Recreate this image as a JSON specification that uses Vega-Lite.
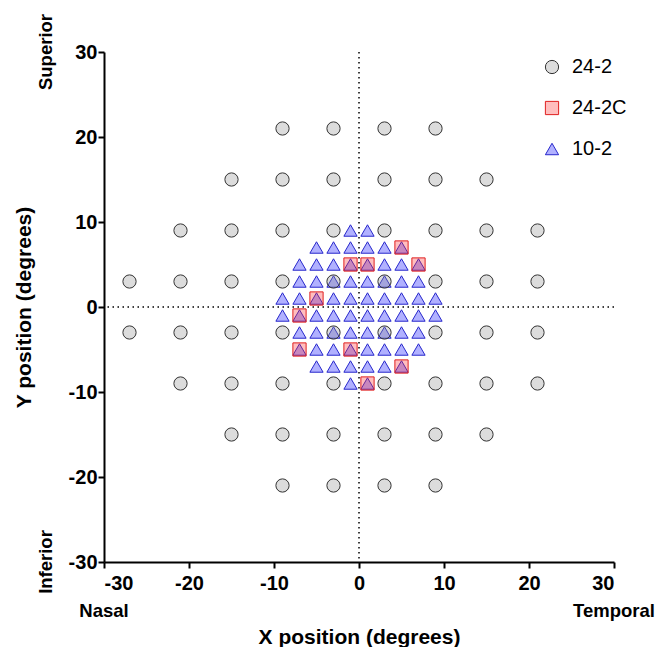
{
  "$schema": "https://vega.github.io/schema/vega-lite/v6.json",
  "width": 510,
  "height": 510,
  "autosize": {"type": "none"},
  "padding": {"left": 104, "top": 52, "right": 54, "bottom": 85},
  "background": "white",
  "config": {
    "view": {"stroke": null},
    "font": "Liberation Sans",
    "axis": {
      "grid": false,
      "domainColor": "black",
      "domainWidth": 2,
      "tickColor": "black",
      "tickWidth": 2,
      "tickSize": 6,
      "labelFont": "Liberation Sans",
      "labelFontWeight": "bold",
      "labelFontSize": 20,
      "labelColor": "black",
      "labelExpr": "toString(datum.value)",
      "titleFont": "Liberation Sans",
      "titleFontWeight": "bold",
      "titleFontSize": 21,
      "titleColor": "black"
    }
  },
  "datasets": {
    "pts": [
      {"x": -1, "y": 9, "test": "10-2"}, {"x": 1, "y": 9, "test": "10-2"},
      {"x": -5, "y": 7, "test": "10-2"}, {"x": -3, "y": 7, "test": "10-2"}, {"x": -1, "y": 7, "test": "10-2"}, {"x": 1, "y": 7, "test": "10-2"}, {"x": 3, "y": 7, "test": "10-2"}, {"x": 5, "y": 7, "test": "10-2"},
      {"x": -7, "y": 5, "test": "10-2"}, {"x": -5, "y": 5, "test": "10-2"}, {"x": -3, "y": 5, "test": "10-2"}, {"x": -1, "y": 5, "test": "10-2"}, {"x": 1, "y": 5, "test": "10-2"}, {"x": 3, "y": 5, "test": "10-2"}, {"x": 5, "y": 5, "test": "10-2"}, {"x": 7, "y": 5, "test": "10-2"},
      {"x": -7, "y": 3, "test": "10-2"}, {"x": -5, "y": 3, "test": "10-2"}, {"x": -3, "y": 3, "test": "10-2"}, {"x": -1, "y": 3, "test": "10-2"}, {"x": 1, "y": 3, "test": "10-2"}, {"x": 3, "y": 3, "test": "10-2"}, {"x": 5, "y": 3, "test": "10-2"}, {"x": 7, "y": 3, "test": "10-2"},
      {"x": -9, "y": 1, "test": "10-2"}, {"x": -7, "y": 1, "test": "10-2"}, {"x": -5, "y": 1, "test": "10-2"}, {"x": -3, "y": 1, "test": "10-2"}, {"x": -1, "y": 1, "test": "10-2"}, {"x": 1, "y": 1, "test": "10-2"}, {"x": 3, "y": 1, "test": "10-2"}, {"x": 5, "y": 1, "test": "10-2"}, {"x": 7, "y": 1, "test": "10-2"}, {"x": 9, "y": 1, "test": "10-2"},
      {"x": -9, "y": -1, "test": "10-2"}, {"x": -7, "y": -1, "test": "10-2"}, {"x": -5, "y": -1, "test": "10-2"}, {"x": -3, "y": -1, "test": "10-2"}, {"x": -1, "y": -1, "test": "10-2"}, {"x": 1, "y": -1, "test": "10-2"}, {"x": 3, "y": -1, "test": "10-2"}, {"x": 5, "y": -1, "test": "10-2"}, {"x": 7, "y": -1, "test": "10-2"}, {"x": 9, "y": -1, "test": "10-2"},
      {"x": -7, "y": -3, "test": "10-2"}, {"x": -5, "y": -3, "test": "10-2"}, {"x": -3, "y": -3, "test": "10-2"}, {"x": -1, "y": -3, "test": "10-2"}, {"x": 1, "y": -3, "test": "10-2"}, {"x": 3, "y": -3, "test": "10-2"}, {"x": 5, "y": -3, "test": "10-2"}, {"x": 7, "y": -3, "test": "10-2"},
      {"x": -7, "y": -5, "test": "10-2"}, {"x": -5, "y": -5, "test": "10-2"}, {"x": -3, "y": -5, "test": "10-2"}, {"x": -1, "y": -5, "test": "10-2"}, {"x": 1, "y": -5, "test": "10-2"}, {"x": 3, "y": -5, "test": "10-2"}, {"x": 5, "y": -5, "test": "10-2"}, {"x": 7, "y": -5, "test": "10-2"},
      {"x": -5, "y": -7, "test": "10-2"}, {"x": -3, "y": -7, "test": "10-2"}, {"x": -1, "y": -7, "test": "10-2"}, {"x": 1, "y": -7, "test": "10-2"}, {"x": 3, "y": -7, "test": "10-2"}, {"x": 5, "y": -7, "test": "10-2"},
      {"x": -1, "y": -9, "test": "10-2"}, {"x": 1, "y": -9, "test": "10-2"},
      {"x": -9, "y": 21, "test": "24-2"}, {"x": -3, "y": 21, "test": "24-2"}, {"x": 3, "y": 21, "test": "24-2"}, {"x": 9, "y": 21, "test": "24-2"},
      {"x": -15, "y": 15, "test": "24-2"}, {"x": -9, "y": 15, "test": "24-2"}, {"x": -3, "y": 15, "test": "24-2"}, {"x": 3, "y": 15, "test": "24-2"}, {"x": 9, "y": 15, "test": "24-2"}, {"x": 15, "y": 15, "test": "24-2"},
      {"x": -21, "y": 9, "test": "24-2"}, {"x": -15, "y": 9, "test": "24-2"}, {"x": -9, "y": 9, "test": "24-2"}, {"x": -3, "y": 9, "test": "24-2"}, {"x": 3, "y": 9, "test": "24-2"}, {"x": 9, "y": 9, "test": "24-2"}, {"x": 15, "y": 9, "test": "24-2"}, {"x": 21, "y": 9, "test": "24-2"},
      {"x": -27, "y": 3, "test": "24-2"}, {"x": -21, "y": 3, "test": "24-2"}, {"x": -15, "y": 3, "test": "24-2"}, {"x": -9, "y": 3, "test": "24-2"}, {"x": -3, "y": 3, "test": "24-2"}, {"x": 3, "y": 3, "test": "24-2"}, {"x": 9, "y": 3, "test": "24-2"}, {"x": 15, "y": 3, "test": "24-2"}, {"x": 21, "y": 3, "test": "24-2"},
      {"x": -27, "y": -3, "test": "24-2"}, {"x": -21, "y": -3, "test": "24-2"}, {"x": -15, "y": -3, "test": "24-2"}, {"x": -9, "y": -3, "test": "24-2"}, {"x": -3, "y": -3, "test": "24-2"}, {"x": 3, "y": -3, "test": "24-2"}, {"x": 9, "y": -3, "test": "24-2"}, {"x": 15, "y": -3, "test": "24-2"}, {"x": 21, "y": -3, "test": "24-2"},
      {"x": -21, "y": -9, "test": "24-2"}, {"x": -15, "y": -9, "test": "24-2"}, {"x": -9, "y": -9, "test": "24-2"}, {"x": -3, "y": -9, "test": "24-2"}, {"x": 3, "y": -9, "test": "24-2"}, {"x": 9, "y": -9, "test": "24-2"}, {"x": 15, "y": -9, "test": "24-2"}, {"x": 21, "y": -9, "test": "24-2"},
      {"x": -15, "y": -15, "test": "24-2"}, {"x": -9, "y": -15, "test": "24-2"}, {"x": -3, "y": -15, "test": "24-2"}, {"x": 3, "y": -15, "test": "24-2"}, {"x": 9, "y": -15, "test": "24-2"}, {"x": 15, "y": -15, "test": "24-2"},
      {"x": -9, "y": -21, "test": "24-2"}, {"x": -3, "y": -21, "test": "24-2"}, {"x": 3, "y": -21, "test": "24-2"}, {"x": 9, "y": -21, "test": "24-2"},
      {"x": 5, "y": 7, "test": "24-2C"}, {"x": -1, "y": 5, "test": "24-2C"}, {"x": 1, "y": 5, "test": "24-2C"}, {"x": 7, "y": 5, "test": "24-2C"}, {"x": -5, "y": 1, "test": "24-2C"},
      {"x": -7, "y": -1, "test": "24-2C"}, {"x": -7, "y": -5, "test": "24-2C"}, {"x": -1, "y": -5, "test": "24-2C"}, {"x": 5, "y": -7, "test": "24-2C"}, {"x": 1, "y": -9, "test": "24-2C"}
    ],
    "one": [{}]
  },
  "layer": [
    {
      "data": {"name": "one"},
      "mark": {"type": "rule", "strokeDash": [1.5, 3.5], "strokeWidth": 1.5, "color": "black"},
      "encoding": {"x": {"datum": 0, "type": "quantitative"}}
    },
    {
      "data": {"name": "one"},
      "mark": {"type": "rule", "strokeDash": [1.5, 3.5], "strokeWidth": 1.5, "color": "black"},
      "encoding": {"y": {"datum": 0, "type": "quantitative"}}
    },
    {
      "data": {"name": "pts"},
      "mark": {"type": "point", "filled": false, "fillOpacity": 1, "strokeWidth": 1, "opacity": 1},
      "encoding": {
        "x": {
          "field": "x", "type": "quantitative",
          "scale": {"domain": [-30, 30], "nice": false},
          "axis": {"values": [-30, -20, -10, 0, 10, 20, 30], "title": "X position (degrees)", "labelPadding": 5, "titlePadding": 33}
        },
        "y": {
          "field": "y", "type": "quantitative",
          "scale": {"domain": [-30, 30], "nice": false},
          "axis": {"values": [-30, -20, -10, 0, 10, 20, 30], "title": "Y position (degrees)", "labelPadding": 1, "titlePadding": 34}
        },
        "shape": {
          "field": "test", "type": "nominal",
          "scale": {"domain": ["24-2", "24-2C", "10-2"], "range": ["circle", "square", "triangle-up"]},
          "legend": {
            "title": null, "orient": "none", "legendX": 438, "legendY": 5,
            "labelFontSize": 20, "labelFont": "Liberation Sans", "labelColor": "black",
            "rowPadding": 21, "labelOffset": 10, "padding": 0, "symbolStrokeWidth": 1
          }
        },
        "fill": {
          "field": "test", "type": "nominal",
          "scale": {"domain": ["24-2", "24-2C", "10-2"], "range": ["rgba(140,140,140,0.3)", "rgba(255,40,40,0.3)", "rgba(40,40,255,0.36)"]},
          "legend": {"title": null}
        },
        "stroke": {
          "field": "test", "type": "nominal",
          "scale": {"domain": ["24-2", "24-2C", "10-2"], "range": ["#333333", "#e02020", "#2828cc"]},
          "legend": {"title": null}
        },
        "size": {
          "field": "test", "type": "ordinal",
          "scale": {"domain": ["24-2", "24-2C", "10-2"], "range": [175, 175, 240]},
          "legend": {"title": null}
        },
        "order": {"field": "test", "type": "nominal", "sort": "ascending"}
      }
    },
    {
      "data": {"name": "one"},
      "mark": {"type": "text", "text": "Nasal", "font": "Liberation Sans", "fontWeight": "bold", "fontSize": 18.5, "align": "center", "baseline": "middle", "dy": 49, "color": "black"},
      "encoding": {"x": {"datum": -30, "type": "quantitative"}, "y": {"datum": -30, "type": "quantitative"}}
    },
    {
      "data": {"name": "one"},
      "mark": {"type": "text", "text": "Temporal", "font": "Liberation Sans", "fontWeight": "bold", "fontSize": 18.5, "align": "center", "baseline": "middle", "dy": 49, "color": "black"},
      "encoding": {"x": {"datum": 30, "type": "quantitative"}, "y": {"datum": -30, "type": "quantitative"}}
    },
    {
      "data": {"name": "one"},
      "mark": {"type": "text", "text": "Superior", "font": "Liberation Sans", "fontWeight": "bold", "fontSize": 18.5, "align": "center", "baseline": "middle", "angle": 270, "dy": -58, "color": "black"},
      "encoding": {"x": {"datum": -30, "type": "quantitative"}, "y": {"datum": 30, "type": "quantitative"}}
    },
    {
      "data": {"name": "one"},
      "mark": {"type": "text", "text": "Inferior", "font": "Liberation Sans", "fontWeight": "bold", "fontSize": 18.5, "align": "center", "baseline": "middle", "angle": 270, "dy": -58, "color": "black"},
      "encoding": {"x": {"datum": -30, "type": "quantitative"}, "y": {"datum": -30, "type": "quantitative"}}
    }
  ]
}
